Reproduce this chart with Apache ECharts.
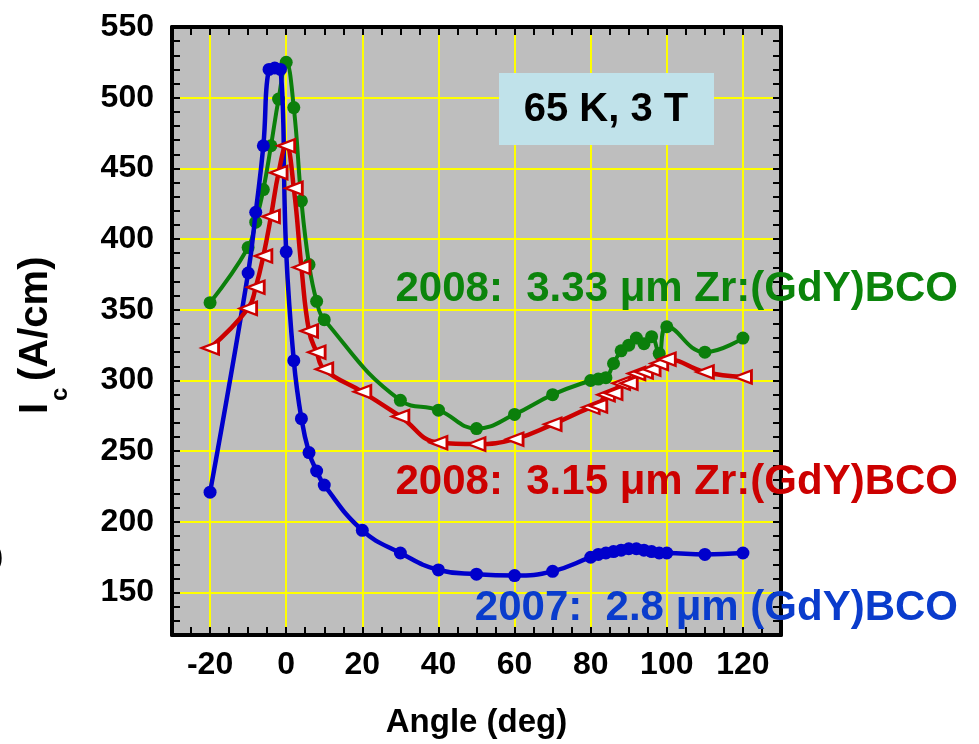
<!DOCTYPE html>
<html><head><meta charset="utf-8">
<script src="https://cdn.jsdelivr.net/npm/echarts/dist/echarts.min.js"></script>
<style>html,body{margin:0;padding:0;background:#fff}#c{width:979px;height:744px}</style>
</head><body><div id="c"></div>
<script>
// ---- data ----
const blueAngle = [-20,-10,-8,-6,-4.5,-3,-1.5,0,2,4,6,8,10,20,30,40,50,60,70,80,82,84,86,88,90,92,94,96,98,100,110,120];
const blueIc    = [221,376,419,466,520,521,520,391,314,273,249,236,226,194,178,166,163,162,165,175,177,178,179,180,181,181,180,179,178,178,177,178];

const greenAngle = [-20,-10,-8,-6,-4,-2,0,2,4,6,8,10,30,40,50,60,70,80,82,84,86,88,90,92,94,96,98,100,110,120];
const greenIc    = [355,394,412,435,466,499,525,493,427,382,356,343,286,279,266,276,290,300,301,302,312,321,325,330,326,331,319,338,320,330];

const redAngle = [-20,-10,-8,-6,-4,-2,0,2,4,6,8,10,20,30,40,50,60,70,80,82,84,86,88,90,92,94,96,98,100,110,120];
const redIc    = [323,351,366,388,416,447,466,436,380,335,320,308,292,274.5,256,255,258.5,269,281,282,290,291,298,298,305,306,308,312,315,306,302.5];

const gridAngles = [-20,0,20,40,60,80,100,120];
const gridIc = [150,200,250,300,350,400,450,500];

const labelGreen = '2008:  3.33 \u03bcm Zr:(GdY)BCO';
const labelRed   = '2008:  3.15 \u03bcm Zr:(GdY)BCO';
const labelBlue  = '2007:  2.8 \u03bcm (GdY)BCO';
const titleText  = '65 K, 3 T';

// ---- chart ----
const FF = '"Liberation Sans", Arial, sans-serif';
const pair = (xs, ys) => xs.map((x, i) => [x, ys[i]]);
const chart = echarts.init(document.getElementById('c'));

const frameLine = {show: true, onZero: false, lineStyle: {color: '#000', width: 4}};
const tick = {show: true, inside: true, length: 8, lineStyle: {color: '#000', width: 2}};

const xBase = {type: 'value', min: -30, max: 130, interval: 5, axisLine: frameLine, axisTick: tick, splitLine: {show: false}, z: 10};
const yBase = {type: 'value', min: 120, max: 550, interval: 10, axisLine: frameLine, axisTick: tick, splitLine: {show: false}, z: 10};

chart.setOption({
  animation: false,
  backgroundColor: '#fff',
  grid: {left: 172, right: 198, top: 27, bottom: 105, show: true, backgroundColor: '#bebebe', borderWidth: 0},
  xAxis: [
    Object.assign({}, xBase, {
      position: 'bottom',
      axisLabel: {formatter: v => (v % 20 === 0 ? String(v) : ''), fontSize: 32, fontWeight: 'bold', color: '#000', fontFamily: FF, margin: 14},
      name: 'Angle (deg)', nameLocation: 'middle', nameGap: 71,
      nameTextStyle: {fontSize: 33, fontWeight: 'bold', color: '#000', fontFamily: FF}
    }),
    Object.assign({}, xBase, {position: 'top', axisLabel: {show: false}})
  ],
  yAxis: [
    Object.assign({}, yBase, {
      position: 'left',
      axisLabel: {formatter: v => (v % 50 === 0 ? String(v) : ''), fontSize: 32, fontWeight: 'bold', color: '#000', fontFamily: FF, margin: 18}
    }),
    Object.assign({}, yBase, {position: 'right', axisLabel: {show: false}})
  ],
  series: [
    {
      type: 'line', data: [], silent: true,
      markLine: {
        silent: true, symbol: 'none', z: 1, animation: false,
        label: {show: false},
        lineStyle: {color: '#ffff00', width: 2, type: 'solid'},
        data: gridAngles.map(v => ({xAxis: v})).concat(gridIc.map(v => ({yAxis: v})))
      }
    },
    {
      type: 'line', name: labelGreen, data: pair(greenAngle, greenIc), smooth: 0.45, z: 3,
      symbol: 'circle', symbolSize: 13,
      lineStyle: {color: '#0b7f0b', width: 4}, itemStyle: {color: '#0b7f0b'}
    },
    {
      type: 'line', name: labelBlue, data: pair(blueAngle, blueIc), smooth: 0.45, z: 4,
      symbol: 'circle', symbolSize: 13,
      lineStyle: {color: '#0000cc', width: 4.5}, itemStyle: {color: '#0000cc'}
    },
    {
      type: 'line', name: labelRed, data: pair(redAngle, redIc), smooth: 0.45, z: 5,
      symbol: 'triangle', symbolSize: [13, 17], symbolRotate: 90,
      lineStyle: {color: '#cc0000', width: 4.5}, itemStyle: {color: '#ffffff', borderColor: '#cc0000', borderWidth: 2.5}
    }
  ],
  graphic: [
    {type: 'rect', shape: {x: 499, y: 73, width: 215, height: 72}, style: {fill: '#c0e2ea'}, z: 50},
    {type: 'text', x: 606, y: 110, z: 51, style: {text: titleText, font: 'bold 40px ' + FF, fill: '#000', align: 'center', verticalAlign: 'middle', textAlign: 'center', textVerticalAlign: 'middle'}},
    {type: 'text', x: 958, y: 289, z: 60, style: {text: labelGreen, font: 'bold 42px ' + FF, fill: '#0b840b', align: 'right', verticalAlign: 'middle', textAlign: 'right', textVerticalAlign: 'middle'}},
    {type: 'text', x: 958, y: 482, z: 60, style: {text: labelRed, font: 'bold 42px ' + FF, fill: '#cc0000', align: 'right', verticalAlign: 'middle', textAlign: 'right', textVerticalAlign: 'middle'}},
    {type: 'text', x: 958, y: 608, z: 60, style: {text: labelBlue, font: 'bold 42px ' + FF, fill: '#0a3ccc', align: 'right', verticalAlign: 'middle', textAlign: 'right', textVerticalAlign: 'middle'}},
    {type: 'text', x: 3, y: 557, z: 60, style: {text: ')', font: 'bold 28px ' + FF, fill: '#000', align: 'right', verticalAlign: 'middle', textAlign: 'right', textVerticalAlign: 'middle'}},
    {
      type: 'group', x: 36, y: 414, rotation: Math.PI / 2, z: 60,
      children: [
        {type: 'text', x: 0, y: 0, style: {text: 'I', font: 'bold 40px ' + FF, fill: '#000', align: 'left', verticalAlign: 'middle', textAlign: 'left', textVerticalAlign: 'middle'}},
        {type: 'text', x: 13, y: 24, style: {text: 'c', font: 'bold 24px ' + FF, fill: '#000', align: 'left', verticalAlign: 'middle', textAlign: 'left', textVerticalAlign: 'middle'}},
        {type: 'text', x: 33, y: 0, style: {text: '(A/cm)', font: 'bold 40px ' + FF, fill: '#000', align: 'left', verticalAlign: 'middle', textAlign: 'left', textVerticalAlign: 'middle'}}
      ]
    }
  ]
});
</script>
</body></html>
